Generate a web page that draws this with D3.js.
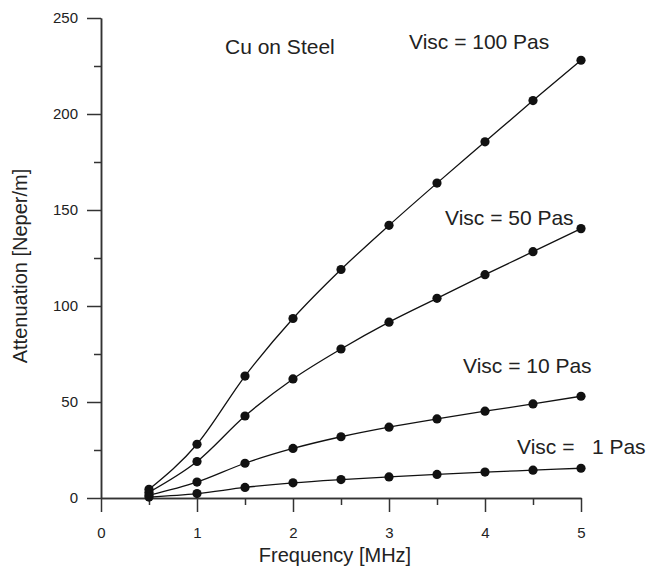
<!DOCTYPE html>
<html>
<head>
<meta charset="utf-8">
<title>Attenuation vs Frequency</title>
<style type="text/css">
	body { margin: 0; background: white; }
	#chart { width: 648px; height: 569px; }
	text { font-family: "Liberation Sans", Arial, sans-serif; fill: #222; }
	.tick text { font-size: 15px; }
	.axis path, .axis line { stroke: #333; stroke-width: 1.5px; }
	.axisTitle { font-size: 20px; }
	.note { font-size: 21px; white-space: pre; }
	.curve { fill: none; stroke: #111; stroke-width: 1.3px; }
	.dot { fill: #111; }
</style>
</head>
<body>

<svg id="chart"></svg>

<script src="https://cdn.jsdelivr.net/npm/d3@7"></script>
<script>

// frequency in MHz
var freq = [0.5, 1, 1.5, 2, 2.5, 3, 3.5, 4, 4.5, 5];

// attenuation in Neper/m, one list per viscosity
var visc100 = [4.5, 28, 63.5, 93.5, 119, 142, 164, 185.5, 207, 228];
var visc50 = [3, 19, 42.7, 62, 77.6, 91.6, 104, 116.3, 128.3, 140.3];
var visc10 = [1.5, 8.3, 18.1, 25.8, 31.9, 36.9, 41.2, 45.2, 49, 53];
var visc1 = [0.5, 2.3, 5.5, 7.9, 9.6, 11, 12.3, 13.5, 14.5, 15.5];

var seriesList = [visc100, visc50, visc10, visc1];
var seriesNames = ['Visc = 100 Pas', 'Visc = 50 Pas', 'Visc = 10 Pas', 'Visc =   1 Pas'];
var title = 'Cu on Steel';

var xTicks = [0, 1, 2, 3, 4, 5],
	xMinor = [0.5, 1.5, 2.5, 3.5, 4.5],
	yTicks = [0, 50, 100, 150, 200, 250],
	yMinor = [25, 75, 125, 175, 225];

var svg = d3.select('#chart');

var x = d3.scaleLinear().domain([0, 5]).range([101, 581]);
var y = d3.scaleLinear().domain([0, 250]).range([498, 18]);

// minor ticks first, then the main axes on top
svg.append('g')
	.attr('class', 'axis')
	.attr('transform', 'translate(101,0)')
	.call(d3.axisLeft(y).tickValues(yMinor).tickSize(7).tickSizeOuter(0).tickFormat(''));

svg.append('g')
	.attr('class', 'axis')
	.attr('transform', 'translate(0,498)')
	.call(d3.axisBottom(x).tickValues(xMinor).tickSize(7).tickSizeOuter(0).tickFormat(''));

svg.append('g')
	.attr('class', 'axis')
	.attr('transform', 'translate(101,0)')
	.call(d3.axisLeft(y).tickValues(yTicks).tickSize(14).tickSizeOuter(0).tickPadding(9).tickFormat(d3.format('d')));

svg.append('g')
	.attr('class', 'axis')
	.attr('transform', 'translate(0,498)')
	.call(d3.axisBottom(x).tickValues(xTicks).tickSize(14).tickSizeOuter(0).tickPadding(15).tickFormat(d3.format('d')));

svg.selectAll('.tick text').attr('fill', '#222');

var line = d3.line()
	.x(function(d, i) { return x(freq[i]); })
	.y(function(d) { return y(d); })
	.curve(d3.curveMonotoneX);

svg.selectAll('.curve')
	.data(seriesList)
	.enter()
	.append('path')
	.attr('class', 'curve')
	.attr('d', line);

svg.selectAll('.series')
	.data(seriesList)
	.enter()
	.append('g')
	.attr('class', 'series')
	.selectAll('circle')
	.data(function(d) { return d; })
	.enter()
	.append('circle')
	.attr('class', 'dot')
	.attr('cx', function(d, i) { return x(freq[i]); })
	.attr('cy', function(d) { return y(d); })
	.attr('r', 4.6);

// labels
svg.append('text')
	.attr('class', 'axisTitle')
	.attr('x', 335)
	.attr('y', 562)
	.attr('text-anchor', 'middle')
	.text('Frequency [MHz]');

svg.append('text')
	.attr('class', 'axisTitle')
	.attr('transform', 'translate(27,266) rotate(-90)')
	.attr('text-anchor', 'middle')
	.text('Attenuation [Neper/m]');

svg.append('text')
	.attr('class', 'note')
	.attr('x', 225)
	.attr('y', 54)
	.text(title);

var notePos = [[409, 49], [445, 225], [463, 373], [517, 454]];

svg.selectAll('.seriesLabel')
	.data(seriesNames)
	.enter()
	.append('text')
	.attr('class', 'note seriesLabel')
	.attr('x', function(d, i) { return notePos[i][0]; })
	.attr('y', function(d, i) { return notePos[i][1]; })
	.text(function(d) { return d; });

</script>

</body>
</html>
